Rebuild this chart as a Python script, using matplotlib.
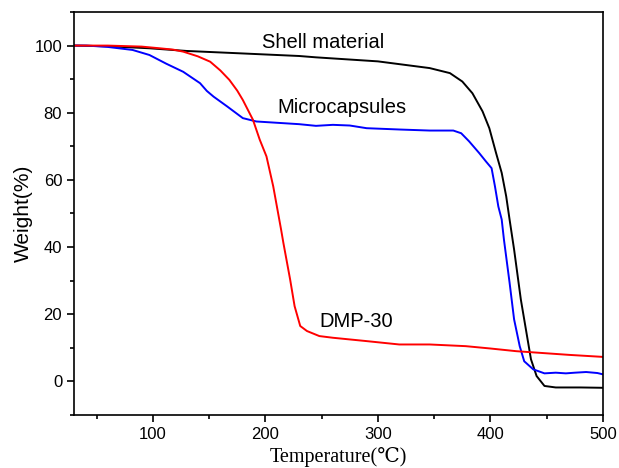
import matplotlib
matplotlib.use("Agg")
import matplotlib.pyplot as plt
from matplotlib.ticker import MultipleLocator

# TGA curves
shell_t = [30, 60, 97, 130, 177, 230, 245, 300, 346, 364, 375, 384, 393, 399, 405, 410, 414, 417, 421, 427, 432, 436, 441, 448, 458, 480, 500]
shell_w = [100, 99.8, 99.2, 98.4, 97.7, 96.9, 96.5, 95.3, 93.3, 91.8, 89.3, 85.8, 80.4, 75.4, 68.0, 62.1, 55.1, 48.2, 39.3, 24.4, 14.5, 6.6, 1.6, -1.35, -1.8, -1.8, -1.9]

micro_t = [30, 41, 60, 82, 97, 112, 127, 142, 148, 154, 166, 180, 192, 230, 245, 260, 275, 290, 320, 346, 367, 374, 381, 390, 396, 401, 404, 407, 410, 412, 417, 421, 426, 430, 438, 448, 458, 467, 475, 485, 495, 500]
micro_w = [100, 100, 99.6, 98.7, 97.2, 94.6, 92.2, 88.8, 86.5, 84.8, 81.9, 78.4, 77.4, 76.6, 76.1, 76.4, 76.2, 75.4, 75.0, 74.7, 74.7, 73.9, 71.5, 68.0, 65.5, 63.5, 58.1, 52.1, 48.2, 42.2, 29.4, 18.5, 10.5, 6.0, 3.6, 2.4, 2.6, 2.4, 2.6, 2.8, 2.5, 2.1]

dmp_t = [30, 60, 90, 106, 118, 127, 140, 151, 160, 168, 175, 180, 189, 195, 201, 207, 214, 216, 222, 226, 231, 237, 248, 260, 290, 319, 346, 378, 400, 423, 470, 500]
dmp_w = [100, 100, 99.7, 99.2, 98.8, 98.2, 96.8, 95.2, 92.6, 89.8, 86.6, 83.8, 77.9, 72.0, 67.0, 58.1, 45.2, 41.3, 30.4, 22.4, 16.5, 15.0, 13.5, 13.0, 12.0, 11.0, 11.0, 10.5, 9.8, 9.0, 7.9, 7.3]

labels = ["Shell material", "Microcapsules", "DMP-30"]
label_pos = [(197, 101), (211, 81.5), (248, 17.8)]

plt.rcParams['font.family'] = ['Liberation Sans', 'DejaVu Sans']

fig = plt.figure(figsize=(6.19, 4.68), dpi=100)
ax = fig.add_axes([74 / 619, 1 - 415 / 468, (603 - 74) / 619, (415 - 12) / 468])

ax.plot(shell_t, shell_w, color='black', lw=1.4)
ax.plot(micro_t, micro_w, color='blue', lw=1.4)
ax.plot(dmp_t, dmp_w, color='red', lw=1.4)

for txt, (x, y) in zip(labels, label_pos):
    ax.text(x, y, txt, fontsize=14.5, ha='left', va='center')

ax.set_xlim(30, 500)
ax.set_ylim(-10, 110)
ax.set_xticks([100, 200, 300, 400, 500])
ax.set_yticks([0, 20, 40, 60, 80, 100])
ax.xaxis.set_minor_locator(MultipleLocator(50))
ax.yaxis.set_minor_locator(MultipleLocator(10))
ax.tick_params(which='both', direction='out', top=False, right=False, labelsize=12, width=1.2)
ax.tick_params(which='major', length=5)
ax.tick_params(which='minor', length=3)
for s in ax.spines.values():
    s.set_linewidth(1.2)

ax.set_ylabel('Weight(%)', fontsize=15, labelpad=1)
ax.set_xlabel('Temperature(℃)', fontsize=14.5, family=['Liberation Serif', 'DejaVu Serif'], labelpad=4)

fig.savefig('out.png', dpi=100)
